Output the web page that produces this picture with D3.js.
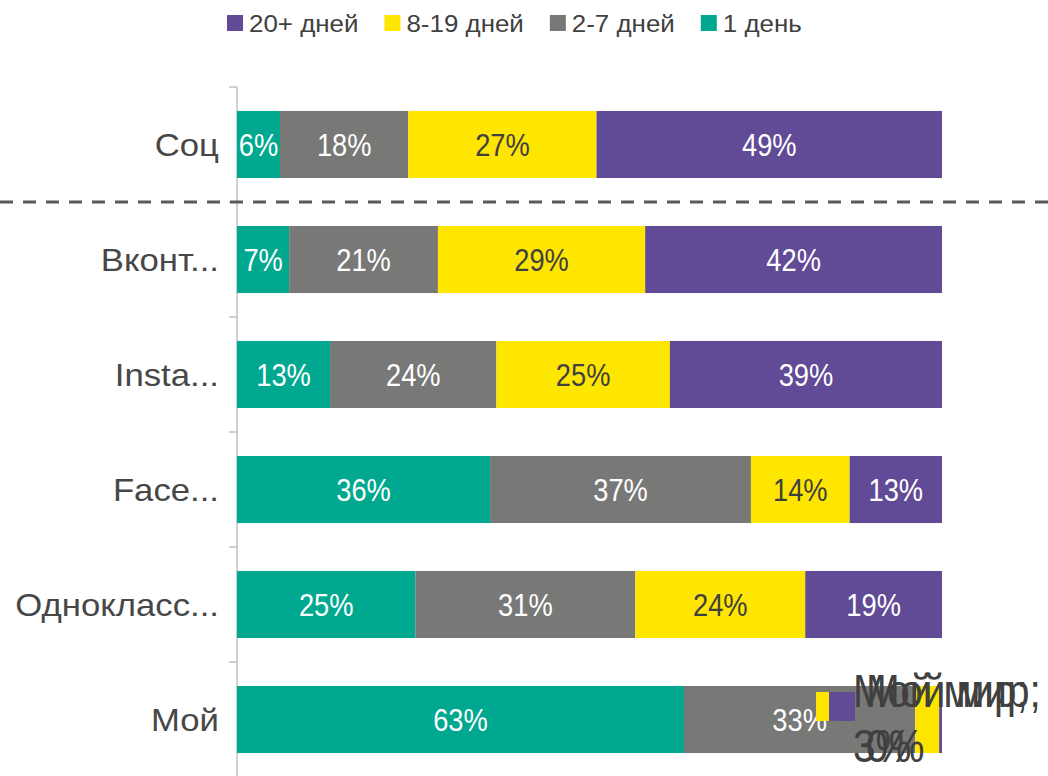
<!DOCTYPE html>
<html>
<head>
<meta charset="utf-8">
<script src="https://cdn.jsdelivr.net/npm/d3@7"></script>
<style>
  body { margin: 0; background: #fff; }
  text { font-family: "Liberation Sans", Arial, sans-serif; }
</style>
</head>
<body>
<div id="chart"></div>
<script>
const width = 1048;
const height = 776;
const squeeze = 0.88;

const categories = ['Соц', 'Вконт...', 'Insta...', 'Face...', 'Однокласс...', 'Мой'];
const seriesNames = ['1 день', '2-7 дней', '8-19 дней', '20+ дней'];
const legendOrder = ['20+ дней', '8-19 дней', '2-7 дней', '1 день'];
const colors = ['#00a88f', '#787877', '#ffe600', '#614a96'];
const labelColors = ['#ffffff', '#ffffff', '#404040', '#ffffff'];

const oneDay = [6.1, 7.4, 13.2, 35.9, 25.3, 63.4];
const twoToSeven = [18.2, 21.1, 23.6, 37.0, 31.2, 32.8];
const eightToNineteen = [26.7, 29.4, 24.6, 14.0, 24.1, 3.4];
const twentyPlus = [49.0, 42.1, 38.6, 13.1, 19.4, 0.4];

const series = [oneDay, twoToSeven, eightToNineteen, twentyPlus];

const svg = d3.select('#chart').append('svg')
  .attr('width', width).attr('height', height);

const x = d3.scaleLinear().domain([0, 100]).range([237, 942]);
const y = d3.scaleBand().domain(categories).range([87, 777]).paddingInner(0.417).paddingOuter(0.2085);

const rows = categories.map((c, i) => {
  let acc = 0;
  return series.map((s, k) => {
    const seg = { cat: c, k: k, x0: acc, x1: acc + s[i], v: s[i], row: i };
    acc += s[i];
    return seg;
  });
});

function squeezedText(g, tx, ty, str, sx) {
  return g.append('text')
    .attr('transform', `translate(${tx},${ty}) scale(${sx || squeeze},1)`)
    .text(str);
}

// axis line and ticks between categories
const step = y.step();
svg.append('line')
  .attr('x1', x(0)).attr('x2', x(0))
  .attr('y1', 87).attr('y2', height)
  .attr('stroke', '#b3b3b3').attr('stroke-width', 1.2);
d3.range(categories.length).forEach(i => {
  const ty = 87 + i * step;
  svg.append('line')
    .attr('x1', x(0) - 8).attr('x2', x(0))
    .attr('y1', ty).attr('y2', ty)
    .attr('stroke', '#b3b3b3').attr('stroke-width', 1.2);
});

// bars
const segs = rows.flat();
svg.append('g').selectAll('rect')
  .data(segs)
  .join('rect')
  .attr('x', d => x(d.x0))
  .attr('y', d => y(d.cat))
  .attr('width', d => x(d.x1) - x(d.x0))
  .attr('height', y.bandwidth())
  .attr('fill', d => colors[d.k]);

// labels inside segments (big enough ones)
const inside = svg.append('g').attr('font-size', 31).attr('text-anchor', 'middle');
segs.filter(d => d.v >= 5).forEach(d => {
  squeezedText(inside, (x(d.x0) + x(d.x1)) / 2, y(d.cat) + y.bandwidth() / 2 + 11, Math.round(d.v) + '%')
    .attr('fill', labelColors[d.k]);
});

// small segments of the last row get outside labels with their keys
const small = segs.filter(d => d.v < 5);
const callout = svg.append('g');
small.forEach((d, j) => {
  callout.append('rect')
    .attr('x', x(100) - 126 + j * 13)
    .attr('y', y(d.cat) + 6)
    .attr('width', 26).attr('height', 29)
    .attr('fill', colors[d.k]);
});
small.forEach((d, j) => {
  const g = callout.append('g').attr('font-size', 46).attr('fill', '#404040');
  squeezedText(g, x(100) - 89 + j * 13, y(d.cat) + 21, 'Мой мир;');
  squeezedText(g, x(100) - 89 + j * 13, y(d.cat) + 76, Math.round(d.v) + '%');
});

// category labels
const catG = svg.append('g').attr('font-size', 31).attr('fill', '#474747').attr('text-anchor', 'end');
categories.forEach(c => {
  squeezedText(catG, 219, y(c) + y.bandwidth() / 2 + 11, c, 1.12);
});

// dashed separator
svg.append('line')
  .attr('x1', 0).attr('x2', width)
  .attr('y1', 87 + step).attr('y2', 87 + step)
  .attr('stroke', '#595959').attr('stroke-width', 3)
  .attr('stroke-dasharray', '13,10');

// legend
const legend = svg.append('g').attr('font-size', 24).attr('fill', '#404040');
let lx = 227;
legendOrder.forEach(name => {
  const k = seriesNames.indexOf(name);
  legend.append('rect')
    .attr('x', lx).attr('y', 15).attr('width', 16).attr('height', 16)
    .attr('fill', colors[k]);
  const t = squeezedText(legend, lx + 22, 32, name, 1.08);
  lx += 22 + t.node().getComputedTextLength() * 1.08 + 26;
});
</script>
</body>
</html>
